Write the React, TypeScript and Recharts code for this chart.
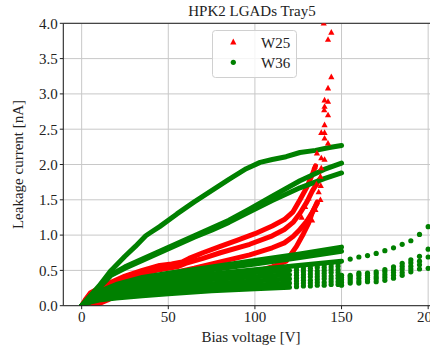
import React from "react";
import {
  ComposedChart,
  Line,
  Scatter,
  XAxis,
  YAxis,
  CartesianGrid,
  ReferenceLine,
} from "recharts";

type Pt = [number, number];

// W36 (green) dense sweeps up to 150 V
const w36Top: Pt[] = [[0, 0], [5, 0.14], [10, 0.28], [17, 0.5], [25, 0.7], [31, 0.84], [37, 0.99], [40, 1.04], [45, 1.12], [55, 1.3], [65, 1.47], [75, 1.63], [85, 1.79], [95, 1.94], [103, 2.03], [110, 2.07], [118, 2.11], [126, 2.17], [135, 2.2], [143, 2.24], [150, 2.27]];
const w36Second: Pt[] = [[0, 0], [5, 0.13], [10, 0.26], [17, 0.44], [25, 0.55], [35, 0.66], [45, 0.77], [55, 0.88], [65, 0.99], [75, 1.1], [85, 1.21], [97, 1.37], [110, 1.55], [126, 1.77], [140, 1.93], [150, 2.02]];
const w36Third: Pt[] = [[0, 0], [5, 0.13], [10, 0.25], [17, 0.43], [25, 0.53], [35, 0.64], [45, 0.75], [55, 0.86], [65, 0.97], [75, 1.07], [85, 1.18], [97, 1.33], [110, 1.49], [126, 1.67], [140, 1.8], [150, 1.88]];
const w36Low1: Pt[] = [[0, 0], [5, 0.12], [10, 0.2], [20, 0.3], [35, 0.4], [50, 0.46], [75, 0.55], [100, 0.64], [125, 0.73], [150, 0.83]];
const w36Low2: Pt[] = [[0, 0], [5, 0.11], [10, 0.19], [20, 0.28], [35, 0.37], [50, 0.43], [75, 0.51], [100, 0.59], [125, 0.68], [150, 0.77]];
const w36Low3: Pt[] = [[0, 0], [5, 0.1], [10, 0.17], [20, 0.25], [35, 0.33], [50, 0.38], [75, 0.45], [100, 0.51], [125, 0.57], [150, 0.63]];

// W36 dense sweeps up to 120 V
const w36Block1: Pt[] = [[0, 0], [5, 0.1], [10, 0.16], [20, 0.24], [35, 0.31], [50, 0.36], [75, 0.42], [100, 0.47], [120, 0.5]];
const w36Block2: Pt[] = [[0, 0], [5, 0.09], [10, 0.14], [20, 0.21], [35, 0.27], [50, 0.31], [75, 0.37], [100, 0.41], [120, 0.44]];
const w36Block3: Pt[] = [[0, 0], [5, 0.08], [10, 0.12], [20, 0.18], [35, 0.23], [50, 0.27], [75, 0.31], [100, 0.35], [120, 0.38]];
const w36Block4: Pt[] = [[0, 0], [5, 0.07], [10, 0.1], [20, 0.15], [35, 0.19], [50, 0.22], [75, 0.26], [100, 0.29], [120, 0.32]];
const w36Block5: Pt[] = [[0, 0], [5, 0.05], [10, 0.08], [20, 0.11], [35, 0.14], [50, 0.17], [75, 0.21], [100, 0.24], [120, 0.26]];

// W36 stepped points 120-150 V
const stripeVolts = [124, 128, 132, 136, 140, 144, 148];
const stripeCurrents = [
  [0.27, 0.31, 0.35, 0.39, 0.43, 0.47, 0.51, 0.55],
  [0.28, 0.32, 0.36, 0.4, 0.44, 0.48, 0.52, 0.56],
  [0.28, 0.32, 0.36, 0.41, 0.45, 0.49, 0.53, 0.57],
  [0.29, 0.33, 0.37, 0.41, 0.45, 0.49, 0.54, 0.58],
  [0.29, 0.33, 0.38, 0.42, 0.46, 0.5, 0.54, 0.58],
  [0.3, 0.34, 0.38, 0.42, 0.47, 0.51, 0.55, 0.59],
  [0.3, 0.34, 0.39, 0.43, 0.47, 0.51, 0.56, 0.6],
];

// W36 stepped points 150-200 V
const tailVolts = [150, 155, 160, 165, 170, 175, 180, 185, 190, 195, 200];
const tailCurrents = [
  [0.29, 0.33, 0.37, 0.4, 0.43],
  [0.32, 0.35, 0.38, 0.41, 0.43],
  [0.32, 0.35, 0.39, 0.43, 0.46],
  [0.34, 0.37, 0.4, 0.43, 0.46],
  [0.34, 0.38, 0.41, 0.45, 0.48],
  [0.36, 0.4, 0.44, 0.48, 0.51],
  [0.39, 0.43, 0.47, 0.51, 0.55],
  [0.43, 0.47, 0.52, 0.56, 0.6],
  [0.48, 0.52, 0.56, 0.61, 0.65],
  [0.52, 0.58, 0.63, 0.7],
  [0.53, 0.69, 0.8],
];
const tailTop: Pt[] = [[155, 0.66], [160, 0.69], [165, 0.71], [170, 0.74], [175, 0.78], [180, 0.82], [185, 0.87], [190, 0.92], [195, 1.01], [200, 1.12]];

// W25 (red) dense sweeps
const w25a: Pt[] = [[0, 0], [2, 0.08], [5, 0.18], [10, 0.25], [15, 0.31], [25, 0.42], [35, 0.5], [45, 0.57], [52, 0.59], [58, 0.62], [62, 0.67], [70, 0.75], [80, 0.84], [90, 0.93], [100, 1.02], [110, 1.13], [117, 1.22], [122, 1.33], [126, 1.5], [130, 1.68], [133, 1.85], [135, 1.98]];
const w25b: Pt[] = [[0, 0], [3, 0.1], [6, 0.16], [10, 0.21], [20, 0.33], [30, 0.42], [45, 0.51], [55, 0.55], [60, 0.6], [70, 0.67], [80, 0.75], [97, 0.87], [110, 0.99], [117, 1.08], [122, 1.18], [126, 1.31], [130, 1.47], [133, 1.62], [137, 1.78]];
const w25c: Pt[] = [[0, 0], [4, 0.08], [10, 0.17], [20, 0.28], [35, 0.38], [50, 0.45], [65, 0.53], [80, 0.62], [97, 0.72], [110, 0.82], [117, 0.89], [122, 0.98], [126, 1.08], [130, 1.2], [133, 1.32], [136, 1.45]];
const w25d: Pt[] = [[0, 0], [6, 0.01], [10, 0.03], [15, 0.08], [20, 0.15], [30, 0.25], [50, 0.31], [75, 0.38], [97, 0.46], [110, 0.55], [118, 0.63], [124, 0.84], [128, 1.02], [131, 1.17], [133, 1.31], [136, 1.47]];
// W25 breakdown points
const w25Sparse: Pt[] = [[139.7, 4.0], [144.1, 3.87], [142.2, 3.77], [144.1, 3.24], [142.2, 3.08], [140.2, 2.91], [142.2, 2.89], [140.2, 2.82], [140, 2.77], [142.2, 2.7], [140.2, 2.56], [138.3, 2.45], [140.2, 2.45], [140.2, 2.37], [142.2, 2.3], [135.8, 2.16], [138.3, 2.09], [140.2, 2.07], [134.5, 1.97], [138.3, 1.95], [137.8, 1.83], [136.8, 1.61], [137.8, 1.5], [134.9, 1.36], [133, 1.21], [138, 1.7], [135.5, 1.72], [131, 1.52], [129, 1.4], [127, 1.25]];

const xTicks = [0, 50, 100, 150, 200];
const yTicks = [0, 0.5, 1, 1.5, 2, 2.5, 3, 3.5, 4];

const toRows = (pts: Pt[]) => pts.map(([x, y]) => ({ x, y }));
const clusterRows = (volts: number[], currents: number[][]) =>
  volts.flatMap((v, i) => currents[i].map((y) => ({ x: v, y })));

const RED = "#ff0000";
const GREEN = "#008000";
const FONT = "'Liberation Serif', 'Times New Roman', serif";

const redLines = [w25a, w25b, w25c, w25d];
const greenLines = [
  w36Block5, w36Block4, w36Block3, w36Block2, w36Block1,
  w36Low3, w36Low2, w36Low1, w36Third, w36Second, w36Top,
];

const Dot = (props: any) => (
  <circle cx={props.cx} cy={props.cy} r={2.6} fill={GREEN} />
);
const Tri = (props: any) => {
  const { cx, cy } = props;
  return (
    <polygon
      points={`${cx},${cy - 3.4} ${cx - 3.1},${cy + 2.2} ${cx + 3.1},${cy + 2.2}`}
      fill={RED}
    />
  );
};

export default function App() {
  return (
    <div
      style={{
        position: "absolute",
        left: 0,
        top: 0,
        width: 430,
        height: 348,
        overflow: "hidden",
        background: "#fff",
        fontFamily: FONT,
      }}>
      <style>{`.recharts-cartesian-axis-tick-value, .recharts-text { font-family: ${FONT}; }`}</style>
      <ComposedChart
        width={452}
        height={348}
        margin={{ top: 23.3, right: 2, bottom: 0, left: 0.3 }}
        style={{ fontFamily: FONT }}>
        <CartesianGrid stroke="#c8c8c8" strokeWidth={1} />
        <XAxis
          type="number"
          dataKey="x"
          domain={[-10.6, 212.6]}
          ticks={xTicks}
          allowDataOverflow
          height={42.3}
          tickSize={3.5}
          stroke="#222"
          tick={{ fill: "#222", fontSize: 15, fontFamily: FONT }}
        />
        <YAxis
          type="number"
          dataKey="y"
          domain={[0, 4]}
          ticks={yTicks}
          allowDataOverflow
          width={63}
          tickSize={3.5}
          stroke="#222"
          tickFormatter={(v: number) => v.toFixed(1)}
          tick={{ fill: "#222", fontSize: 15, fontFamily: FONT }}
        />
        <ReferenceLine y={4} stroke="#222" strokeWidth={1} />
        {redLines.map((pts, i) => (
          <Line
            key={`r${i}`}
            data={toRows(pts)}
            dataKey="y"
            type="linear"
            stroke={RED}
            strokeWidth={5}
            strokeLinejoin="round"
            strokeLinecap="round"
            dot={false}
            activeDot={false}
            isAnimationActive={false}
          />
        ))}
        <Scatter
          data={toRows(w25Sparse)}
          dataKey="y"
          shape={Tri}
          isAnimationActive={false}
        />
        {greenLines.map((pts, i) => (
          <Line
            key={`g${i}`}
            data={toRows(pts)}
            dataKey="y"
            type="linear"
            stroke={GREEN}
            strokeWidth={5}
            strokeLinejoin="round"
            strokeLinecap="round"
            dot={false}
            activeDot={false}
            isAnimationActive={false}
          />
        ))}
        <Scatter
          data={clusterRows(stripeVolts, stripeCurrents)}
          dataKey="y"
          shape={Dot}
          isAnimationActive={false}
        />
        <Scatter
          data={clusterRows(tailVolts, tailCurrents)}
          dataKey="y"
          shape={Dot}
          isAnimationActive={false}
        />
        <Scatter
          data={toRows(tailTop)}
          dataKey="y"
          shape={Dot}
          isAnimationActive={false}
        />
      </ComposedChart>
      <svg
        width={430}
        height={348}
        style={{ position: "absolute", left: 0, top: 0, pointerEvents: "none" }}>
        <g fontFamily={FONT} fill="#222" fontSize={15}>
          <text x={252} y={16} textAnchor="middle">
            HPK2 LGADs Tray5
          </text>
          <text x={251} y={342} textAnchor="middle">
            Bias voltage [V]
          </text>
          <text
            transform="translate(23,164.5) rotate(-90)"
            textAnchor="middle">
            Leakage current [nA]
          </text>
        </g>
        <rect
          x={212.5}
          y={30.5}
          width={84}
          height={47}
          rx={3}
          fill="rgba(255,255,255,0.8)"
          stroke="#d0d0d0"
        />
        <polygon points="233.3,38.6 230.2,44.4 236.4,44.4" fill={RED} />
        <circle cx={233.3} cy={62.3} r={2.6} fill={GREEN} />
        <g fontFamily={FONT} fill="#222" fontSize={15}>
          <text x={261} y={48}>W25</text>
          <text x={261} y={68}>W36</text>
        </g>
      </svg>
    </div>
  );
}
